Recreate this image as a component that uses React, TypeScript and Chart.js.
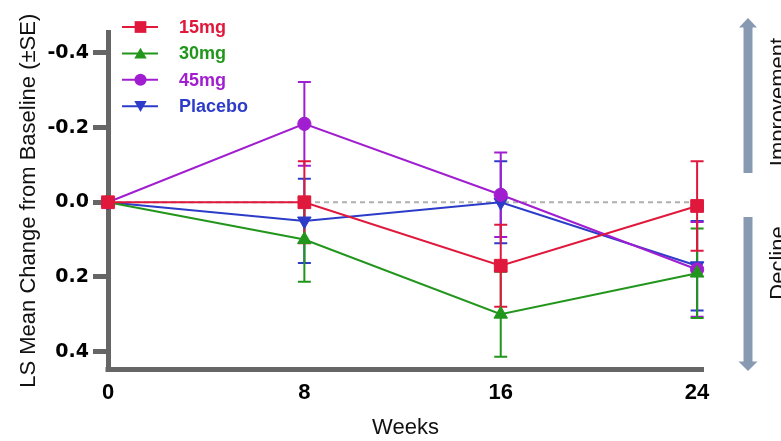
import React, { useEffect, useRef } from 'react';
import { Chart, registerables } from 'chart.js';

Chart.register(...registerables);

// ---- data ----
const WEEKS = [0, 8, 16, 24];
const X_TICKS = [0, 8, 16, 24];
const Y_TICKS = [-0.4, -0.2, 0, 0.2, 0.4];
const SERIES_LABELS = ['15mg', '30mg', '45mg', 'Placebo'];
const MG15 = [0, 0.0, 0.17, 0.01];
const MG15_SE = [0, 0.11, 0.11, 0.12];
const MG30 = [0, 0.1, 0.3, 0.19];
const MG30_SE = [0, 0.113, 0.114, 0.12];
const MG45 = [0, -0.21, -0.02, 0.18];
const MG45_SE = [0, 0.112, 0.113, 0.127];
const PLACEBO = [0, 0.05, 0.0, 0.17];
const PLACEBO_SE = [0, 0.113, 0.11, 0.12];
const X_TITLE = 'Weeks';
const Y_TITLE = 'LS Mean Change from Baseline (±SE)';
const SIDE_LABELS = ['Improvement', 'Decline'];

const SERIES_VALUES = [MG15, MG30, MG45, PLACEBO];
const SERIES_SE = [MG15_SE, MG30_SE, MG45_SE, PLACEBO_SE];
const COLORS = ['#e0183c', '#22961c', '#a01ed0', '#2c3cc8'];
const POINT_STYLES = ['rect', 'triangle', 'circle', 'triangle'];
const POINT_ROT = [0, 0, 0, 180];
const POINT_RADIUS = [9, 7.8, 6.6, 7.8];

const AXIS_COLOR = '#666666';
const ARROW_COLOR = '#8899b2';

function drawMarker(ctx: CanvasRenderingContext2D, style: string, rot: number, x: number, y: number, r: number) {
  ctx.beginPath();
  if (style === 'rect') {
    const s = Math.SQRT1_2 * r;
    ctx.rect(x - s, y - s, 2 * s, 2 * s);
  } else if (style === 'circle') {
    ctx.arc(x, y, r, 0, Math.PI * 2);
  } else {
    let rad = (rot * Math.PI) / 180;
    for (let k = 0; k < 3; k++) {
      const px = x + Math.sin(rad) * r;
      const py = y - Math.cos(rad) * r;
      if (k === 0) ctx.moveTo(px, py);
      else ctx.lineTo(px, py);
      rad += (2 * Math.PI) / 3;
    }
    ctx.closePath();
  }
  ctx.fill();
}

const overlayPlugin = {
  id: 'overlay',
  beforeDatasetsDraw(chart: any) {
    const { ctx, chartArea, scales } = chart;
    const xs = scales.x;
    const ys = scales.y;
    ctx.save();
    // dashed zero reference line
    const y0 = ys.getPixelForValue(0);
    ctx.strokeStyle = '#b0b0b0';
    ctx.lineWidth = 2;
    ctx.setLineDash([5, 4]);
    ctx.beginPath();
    ctx.moveTo(chartArea.left, y0);
    ctx.lineTo(chartArea.right, y0);
    ctx.stroke();
    ctx.setLineDash([]);
    // error bars
    for (let i = chart.data.datasets.length - 1; i >= 0; i--) {
      const ds = chart.data.datasets[i];
      const se = SERIES_SE[i];
      ctx.strokeStyle = ds.borderColor;
      ctx.lineWidth = 2;
      ds.data.forEach((p: any, j: number) => {
        const e = se[j];
        if (!e) return;
        const px = xs.getPixelForValue(p.x);
        const top = ys.getPixelForValue(p.y - e);
        const bot = ys.getPixelForValue(p.y + e);
        ctx.beginPath();
        ctx.moveTo(px, top);
        ctx.lineTo(px, bot);
        ctx.moveTo(px - 6.5, top);
        ctx.lineTo(px + 6.5, top);
        ctx.moveTo(px - 6.5, bot);
        ctx.lineTo(px + 6.5, bot);
        ctx.stroke();
      });
    }
    ctx.restore();
  },
  afterDraw(chart: any) {
    const { ctx, chartArea } = chart;
    ctx.save();
    // axis corner
    ctx.fillStyle = AXIS_COLOR;
    ctx.fillRect(chartArea.left - 2.5, chartArea.bottom - 2.5, 5, 5);

    // legend
    chart.data.datasets.forEach((ds: any, i: number) => {
      const yy = 27 + i * 26.4;
      ctx.strokeStyle = ds.borderColor;
      ctx.fillStyle = ds.borderColor;
      ctx.lineWidth = 2;
      ctx.beginPath();
      ctx.moveTo(122, yy);
      ctx.lineTo(158, yy);
      ctx.stroke();
      drawMarker(ctx, POINT_STYLES[i], POINT_ROT[i], 140.5, POINT_STYLES[i] === 'triangle' ? yy + (i === 3 ? -1.5 : 1.5) : yy, POINT_RADIUS[i] * 0.92);
      ctx.font = 'bold 18px "Liberation Sans", Arial, sans-serif';
      ctx.textAlign = 'left';
      ctx.textBaseline = 'middle';
      ctx.fillText(ds.label, 179, yy + 1);
    });

    // arrows
    ctx.fillStyle = ARROW_COLOR;
    // up arrow
    ctx.fillRect(743.5, 27, 9, 146);
    ctx.beginPath();
    ctx.moveTo(739, 27.5);
    ctx.lineTo(757, 27.5);
    ctx.lineTo(748, 18);
    ctx.closePath();
    ctx.fill();
    // down arrow
    ctx.fillRect(743.5, 217, 9, 145);
    ctx.beginPath();
    ctx.moveTo(738.5, 361.5);
    ctx.lineTo(757.5, 361.5);
    ctx.lineTo(748, 371);
    ctx.closePath();
    ctx.fill();

    // side labels
    ctx.fillStyle = '#111111';
    ctx.font = '22px "Liberation Sans", Arial, sans-serif';
    ctx.textAlign = 'center';
    ctx.textBaseline = 'alphabetic';
    const centers = [102, 263];
    SIDE_LABELS.forEach((t, k) => {
      ctx.save();
      ctx.translate(785, centers[k]);
      ctx.rotate(-Math.PI / 2);
      ctx.fillText(t, 0, 0);
      ctx.restore();
    });
    ctx.restore();
  },
};

export default function App() {
  const ref = useRef<HTMLCanvasElement | null>(null);

  useEffect(() => {
    if (!ref.current) return;
    const datasets = SERIES_LABELS.map((label, i) => ({
      label,
      data: WEEKS.map((w, j) => ({ x: w, y: SERIES_VALUES[i][j] })),
      borderColor: COLORS[i],
      backgroundColor: COLORS[i],
      borderWidth: 2,
      pointStyle: POINT_STYLES[i],
      pointRotation: POINT_ROT[i],
      pointRadius: POINT_RADIUS[i],
      pointBorderWidth: 1,
      pointBackgroundColor: COLORS[i],
      pointBorderColor: COLORS[i],
      tension: 0,
      clip: false,
    }));

    const chart = new Chart(ref.current, {
      type: 'line',
      data: { datasets } as any,
      plugins: [overlayPlugin],
      options: {
        responsive: false,
        animation: false,
        devicePixelRatio: 1,
        layout: { padding: { left: 0, top: 32, right: 78, bottom: 0 } },
        plugins: {
          legend: { display: false },
          tooltip: { enabled: false },
        },
        scales: {
          x: {
            type: 'linear',
            min: 0,
            max: 24.24,
            afterBuildTicks: (s: any) => {
              s.ticks = X_TICKS.map((v) => ({ value: v }));
            },
            afterFit: (s: any) => {
              s.height = 71.5;
            },
            grid: { display: false, drawTicks: false },
            border: { display: true, color: AXIS_COLOR, width: 5 },
            ticks: {
              padding: 10,
              color: '#000000',
              font: { family: '"Liberation Sans", Arial, sans-serif', size: 22, weight: 'bold' },
              callback: (v: any) => String(v),
            },
            title: {
              display: true,
              text: X_TITLE,
              color: '#111111',
              font: { family: '"Liberation Sans", Arial, sans-serif', size: 22 },
              padding: { top: 0, bottom: 0 },
            },
          },
          y: {
            type: 'linear',
            reverse: true,
            min: -0.456,
            max: 0.448,
            afterBuildTicks: (s: any) => {
              s.ticks = Y_TICKS.map((v) => ({ value: v }));
            },
            afterFit: (s: any) => {
              s.width = 108;
            },
            grid: {
              display: true,
              drawOnChartArea: false,
              drawTicks: true,
              tickLength: 15,
              tickWidth: 5,
              tickColor: AXIS_COLOR,
            },
            border: { display: true, color: AXIS_COLOR, width: 5 },
            ticks: {
              padding: 4,
              color: '#000000',
              font: { family: '"DejaVu Sans", sans-serif', size: 19, weight: 'bold' },
              callback: (v: any) => Number(v).toFixed(1),
            },
            title: {
              display: true,
              text: Y_TITLE,
              color: '#111111',
              font: { family: '"Liberation Sans", Arial, sans-serif', size: 22 },
              padding: { top: 16, bottom: 0 },
            },
          },
        },
      } as any,
    });
    return () => chart.destroy();
  }, []);

  return (
    <div style={{ position: 'fixed', left: 0, top: 0, width: 781, height: 441, background: '#ffffff' }}>
      <canvas ref={ref} width={781} height={441} style={{ display: 'block', width: 781, height: 441 }} />
    </div>
  );
}
